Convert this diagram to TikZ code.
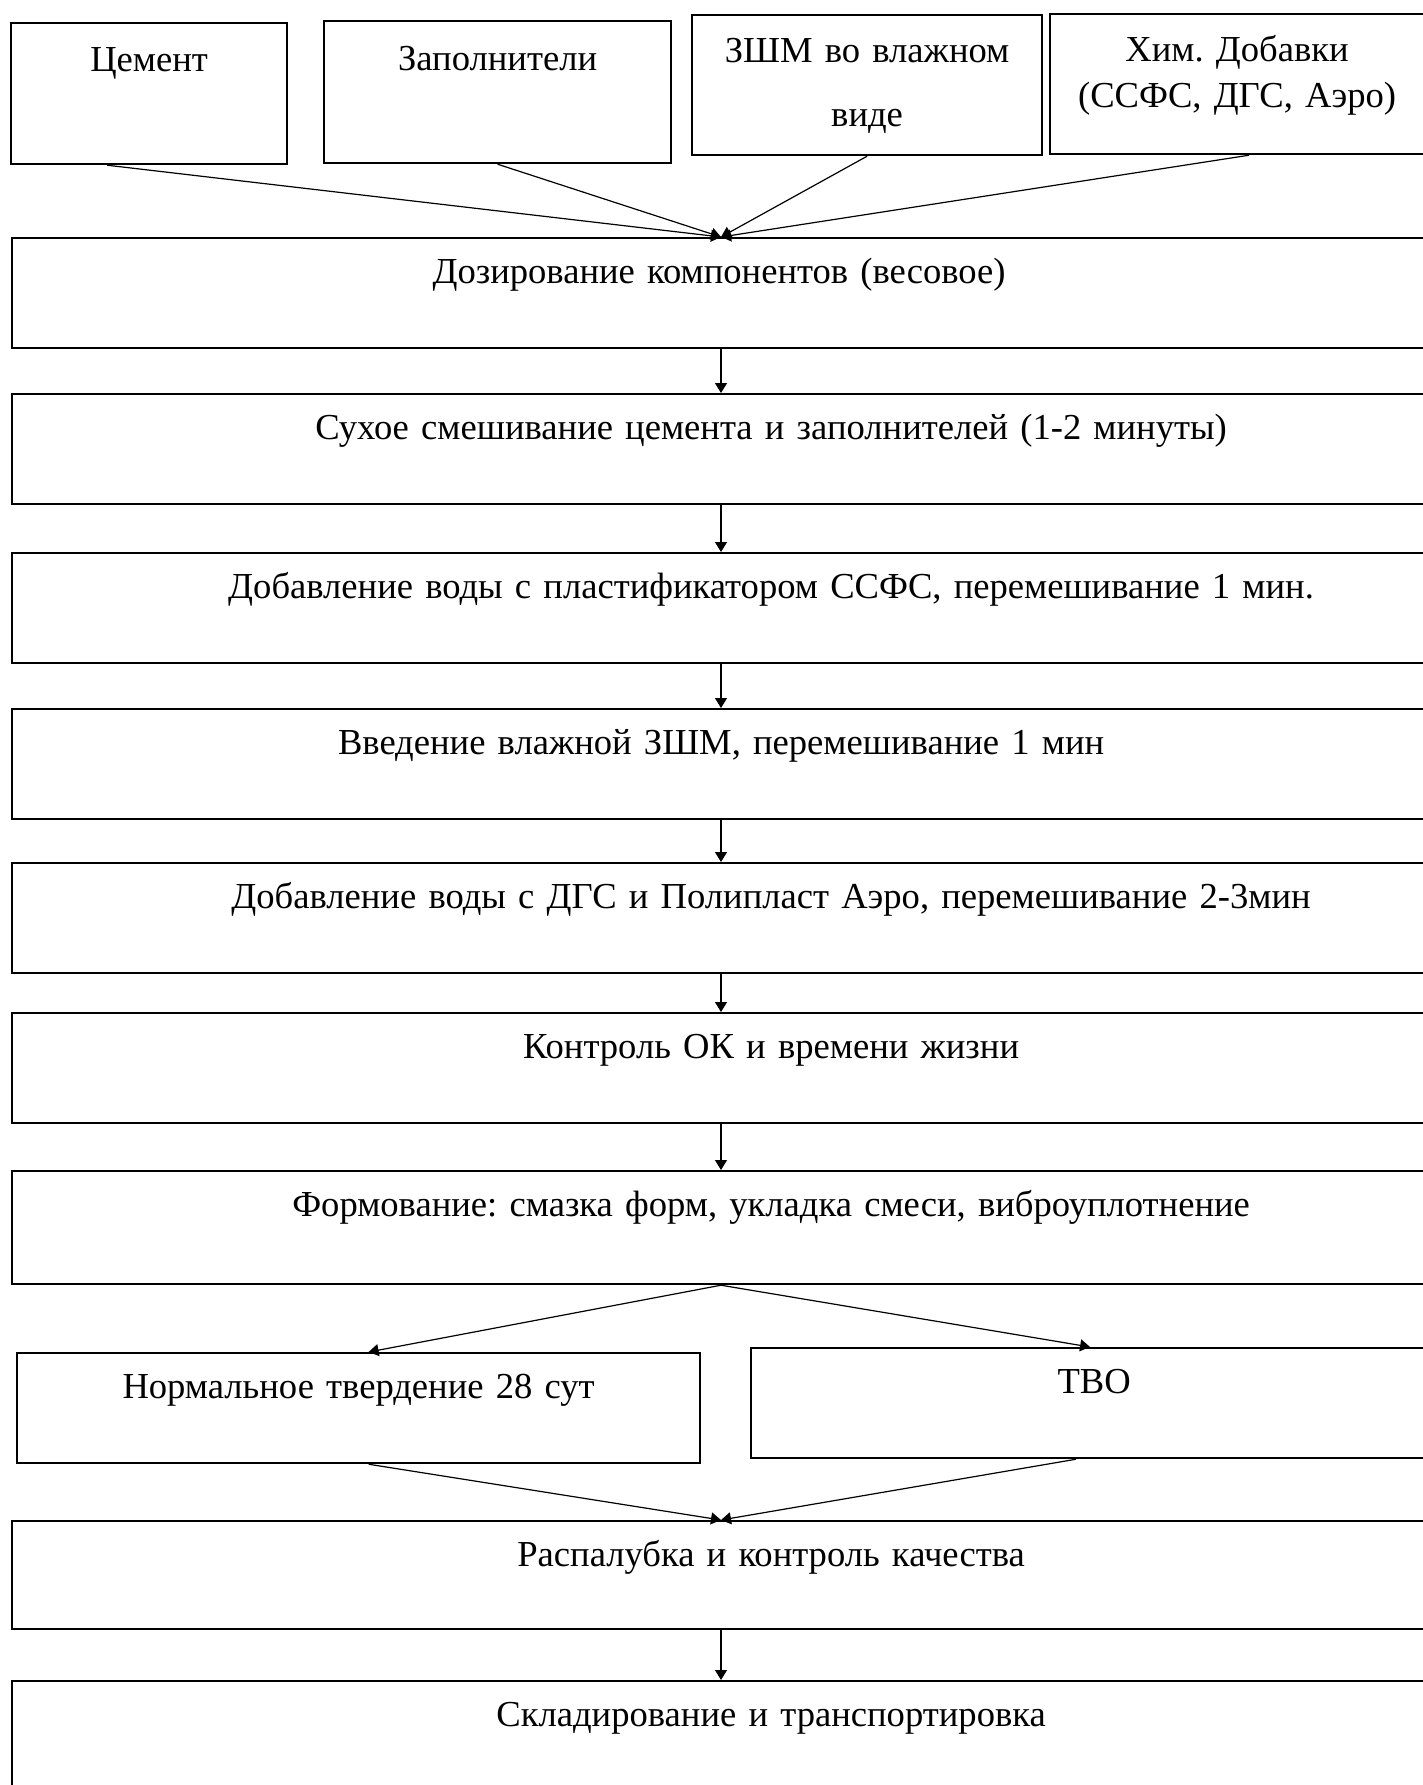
\documentclass[tikz,border=0pt]{standalone}
\usepackage{fontspec}
\setmainfont{Liberation Serif}
\usepackage{tikz}
\usetikzlibrary{arrows.meta, positioning, calc}
\frenchspacing

\begin{document}
\begin{tikzpicture}[
    x=0.5pt, y=-0.5pt,
    font=\fontsize{18.3}{22}\selectfont,
    box/.style={rectangle, draw, line width=1.1pt, anchor=north west, inner sep=0pt, align=center},
    source/.style={box, text height=23.5pt, text depth=46.5pt},
    stage/.style={box, text width=759pt, text height=22.5pt, text depth=32.5pt},
    arrow/.style={->, >={Triangle[length=5pt, width=6pt]}, line width=0.6pt}
]
\useasboundingbox (0,0) rectangle (1423,1785);
\clip (0,0) rectangle (1423,1785);

% Исходные материалы
\node[source, text width=138pt, text height=24pt] (cement) at (10,22) {Цемент};
\node[source, text width=173.5pt, text height=24.5pt] (fillers) at (323,20) {Заполнители};
\node[source, text width=175pt] (ash) at (691,14) {ЗШМ во влажном\\[10pt] виде};
\node[source, text width=187pt] (chem) at (1049,13) {Хим. Добавки\\[1pt] (ССФС, ДГС, Аэро)};

% Технологические операции
\node[stage] (dose) at (11,237) {\hspace*{-52pt}Дозирование компонентов (весовое)};
\node[stage] (drymix) at (11,393) {Сухое смешивание цемента и заполнителей (1-2 минуты)};
\node[stage] (water) at (11,552) {Добавление воды с пластификатором ССФС, перемешивание 1 мин.};
\node[stage] (wetash) at (11,708) {\hspace*{-50pt}Введение влажной ЗШМ, перемешивание 1 мин};
\node[stage] (air) at (11,862) {Добавление воды с ДГС и Полипласт Аэро, перемешивание 2-3мин};
\node[stage] (check) at (11,1012) {Контроль ОК и времени жизни};
\node[stage, text depth=34pt] (forming) at (11,1170) {Формование: смазка форм, укладка смеси, виброуплотнение};

% Твердение
\node[stage, text width=341.5pt] (normal) at (16,1352) {Нормальное твердение 28 сут};
\node[stage, text width=343pt] (tvo) at (750,1347) {ТВО};

% Завершение
\node[stage, text depth=31.5pt] (strip) at (11,1520) {Распалубка и контроль качества};
\node[stage, text depth=60pt] (store) at (11,1680) {Складирование и транспортировка};

\coordinate (spine) at (721,0);

% Стрелки
\draw[arrow] ([xshift=-21pt]cement.south) -- (dose.north -| spine);
\draw[arrow] (fillers.south) -- (dose.north -| spine);
\draw[arrow] (ash.south) -- (dose.north -| spine);
\draw[arrow] ([xshift=6pt]chem.south) -- (dose.north -| spine);
\draw[arrow] (dose.south -| spine) -- (drymix.north -| spine);
\draw[arrow] (drymix.south -| spine) -- (water.north -| spine);
\draw[arrow] (water.south -| spine) -- (wetash.north -| spine);
\draw[arrow] (wetash.south -| spine) -- (air.north -| spine);
\draw[arrow] (air.south -| spine) -- (check.north -| spine);
\draw[arrow] (check.south -| spine) -- (forming.north -| spine);
\draw[arrow] (forming.south -| spine) -- ([xshift=5pt]normal.north);
\draw[arrow] (forming.south -| spine) -- ([xshift=-2pt]tvo.north);
\draw[arrow] ([xshift=5pt]normal.south) -- (strip.north -| spine);
\draw[arrow] ([xshift=-9pt]tvo.south) -- (strip.north -| spine);
\draw[arrow] (strip.south -| spine) -- (store.north -| spine);

\end{tikzpicture}
\end{document}
